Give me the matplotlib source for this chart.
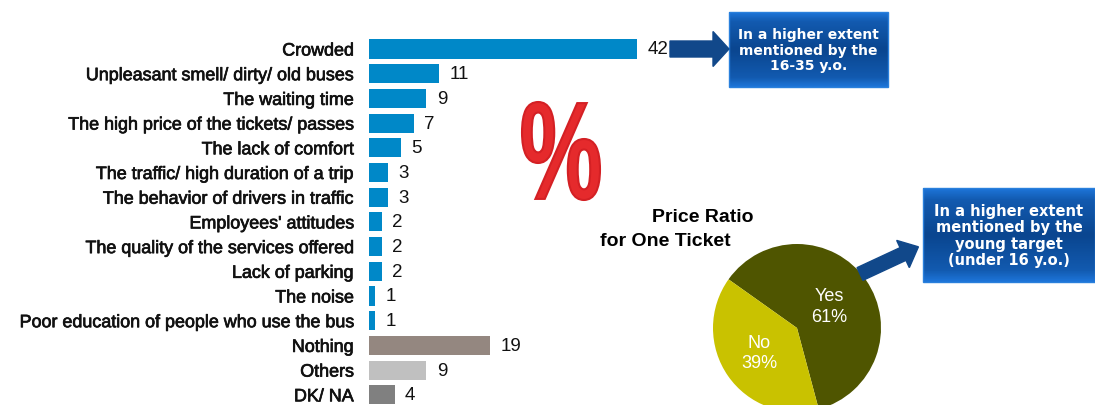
import numpy as np
import matplotlib
matplotlib.use("Agg")
import matplotlib.pyplot as plt
import matplotlib.patheffects as pe
from matplotlib.patches import FancyArrow, Rectangle, PathPatch
from matplotlib.textpath import TextPath
from matplotlib.font_manager import FontProperties
from matplotlib.transforms import Affine2D

# Reasons for dissatisfaction (%)
reasons = ["Crowded", "Unpleasant smell/ dirty/ old buses", "The waiting time",
           "The high price of the tickets/ passes", "The lack of comfort",
           "The traffic/ high duration of a trip", "The behavior of drivers in traffic",
           "Employees' attitudes", "The quality of the services offered",
           "Lack of parking", "The noise", "Poor education of people who use the bus",
           "Nothing", "Others", "DK/ NA"]
values = [42, 11, 9, 7, 5, 3, 3, 2, 2, 2, 1, 1, 19, 9, 4]
bar_colors = ["#0088c8"] * 12 + ["#948780", "#c0c0c0", "#808080"]

# Price ratio pie
pie_labels = ["Yes", "No"]
pie_values = [61, 39]
pie_colors = ["#4f5500", "#c9c200"]

W, H = 1095, 405
fig = plt.figure(figsize=(W / 100, H / 100), dpi=100)
plt.rcParams["font.family"] = ["Liberation Sans", "DejaVu Sans"]

heavy = [pe.withStroke(linewidth=0.5, foreground="#111111")]

# bar chart, positioned in pixels
row = 24.7
top = 49 - row / 2
ax = fig.add_axes([369 / W, 1 - (top + row * 15) / H, 268 / W, row * 15 / H])
y = np.arange(len(values))
ax.barh(y, values, height=0.77, color=bar_colors)
ax.set_xlim(0, 42)
ax.set_ylim(14.5, -0.5)
ax.set_yticks(y)
ax.set_yticklabels(reasons, fontsize=12.9, color="#111111")
for lbl in ax.get_yticklabels():
    lbl.set_path_effects(heavy)
ax.tick_params(axis="y", length=0, pad=11)
ax.set_xticks([])
for s in ax.spines.values():
    s.set_visible(False)
for i, v in enumerate(values):
    ax.text(v + 1.6, i + 0.04, str(v), va="center", ha="left", fontsize=13.5, color="#111111")

# pie chart
cx, cy, r = 797, 328, 84
pax = fig.add_axes([(cx - r) / W, 1 - (cy + r) / H, 2 * r / W, 2 * r / H])
pax.pie(pie_values, colors=pie_colors, startangle=285, counterclock=True,
        wedgeprops=dict(linewidth=0))
pax.set_xlim(-1, 1)
pax.set_ylim(-1, 1)
pax.set_aspect("equal")
pax.text(0.38, 0.25, "Yes\n61%", ha="center", va="center", color="white", fontsize=13,
         linespacing=1.25)
pax.text(-0.45, -0.30, "No\n39%", ha="center", va="center", color="white", fontsize=13,
         linespacing=1.25)

# overlay in pixel coordinates for callouts
ov = fig.add_axes([0, 0, 1, 1], zorder=5)
ov.set_xlim(0, W)
ov.set_ylim(H, 0)
ov.axis("off")
ov.patch.set_alpha(0)

# red percent sign, stretched tall and narrow
tp = TextPath((0, 0), "%", size=1, prop=FontProperties(family="Liberation Sans", weight="bold"))
ext = tp.get_extents()
tr = (Affine2D().translate(-ext.x0, -ext.y0)
      .scale(78 / ext.width, -98 / ext.height)
      .translate(522, 200))
ov.add_patch(PathPatch(tr.transform_path(tp), facecolor="#e52a2c", edgecolor="#d42024",
                       linewidth=1.5, zorder=2))

# pie title
ov.text(652, 218, "Price Ratio", fontsize=14, fontweight="bold", ha="left", va="center")
ov.text(600, 242, "for One Ticket", fontsize=14, fontweight="bold", ha="left", va="center")


def callout(x0, y0, x1, y1, text, size):
    prof = np.interp(np.linspace(0, 1, 60), [0, 0.12, 0.5, 0.88, 1], [1, 0.45, 0, 0.45, 1])[:, None]
    cmap = matplotlib.colors.LinearSegmentedColormap.from_list("b", ["#0a4690", "#1d74d8"])
    ov.imshow(prof, cmap=cmap, extent=(x0, x1, y1, y0), aspect="auto", zorder=2)
    ov.add_patch(Rectangle((x0, y0), x1 - x0, y1 - y0, fill=False,
                           edgecolor="#2a80dc", linewidth=1.0, zorder=3))
    ov.text((x0 + x1) / 2, (y0 + y1) / 2 + 1, text, color="white", fontsize=size,
            fontweight="bold", ha="center", va="center", linespacing=1.12,
            family="DejaVu Sans", zorder=4)


callout(729, 12, 888, 87, "In a higher extent\nmentioned by the\n16-35 y.o.", 10)
callout(923, 188, 1095, 282, "In a higher extent\nmentioned by the\nyoung target\n(under 16 y.o.)", 10.5)

ov.add_patch(FancyArrow(670, 49, 43, 0, width=16, head_width=35, head_length=16,
                        length_includes_head=False, color="#11488a", zorder=3))
ov.add_patch(FancyArrow(860, 274, 43, -20, width=14, head_width=30, head_length=17,
                        length_includes_head=False, color="#11488a", zorder=3))

fig.savefig("out.png", dpi=100)
